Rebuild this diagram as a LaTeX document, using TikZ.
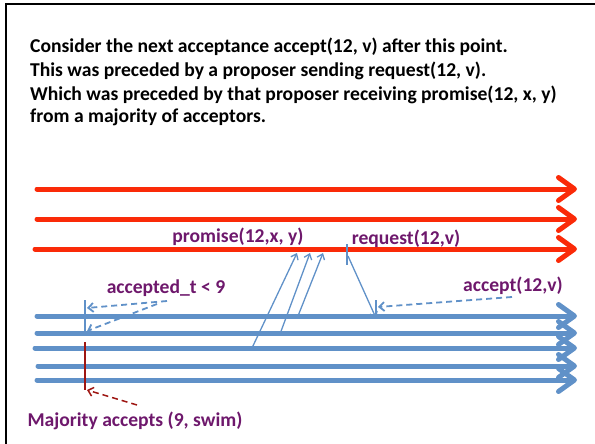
\documentclass[tikz,border=0pt]{standalone}
\usepackage{fontspec}
\setmainfont{Carlito}
\usetikzlibrary{arrows.meta}
\definecolor{propred}{RGB}{250,42,8}
\definecolor{accblue}{RGB}{96,145,200}
\definecolor{lblpurple}{RGB}{110,24,108}
\definecolor{majred}{RGB}{158,22,18}

\begin{document}
\begin{tikzpicture}[x=1pt,y=-1pt,
  txt/.style={font=\bfseries\fontsize{19.6}{22}\selectfont, inner sep=0pt},
  lbl/.style={txt, text=lblpurple},
  timeline/.style={line width=5pt, line cap=round,
    -{Straight Barb[length=16pt,width=23pt,line cap=round,line join=round]}},
  proposer/.style={timeline, draw=propred},
  acceptor/.style={timeline, draw=accblue},
  msg/.style={draw=accblue, line width=1.3pt, -{Straight Barb[length=5pt,width=8pt]}},
  tick/.style={draw=accblue, line width=1.3pt},
  note/.style={draw=accblue, line width=1.8pt, dash pattern=on 6pt off 4pt,
    -{Straight Barb[length=5pt,width=9pt]}},
  majnote/.style={draw=majred, line width=1.5pt, dash pattern=on 6pt off 4pt,
    -{Straight Barb[length=5pt,width=9pt]}},
]
\useasboundingbox (0,0) rectangle (595,444);

% frame
\draw[line width=2.8pt] (6,444) -- (6,4) -- (595,4);

% explanatory text
\node[txt, anchor=base west] (t1) at (30,53) {Consider the next acceptance accept(12, v) after this point.};
\node[txt, anchor=base west] (t2) at (30,77) {This was preceded by a proposer sending request(12, v).};
\node[txt, anchor=base west] (t3) at (30,100) {Which was preceded by that proposer receiving promise(12, x, y)};
\node[txt, anchor=base west] (t4) at (30,123) {from a majority of acceptors.};

% proposer timelines
\coordinate (p1s) at (37,189); \coordinate (p1e) at (577,189);
\coordinate (p2s) at (37,219); \coordinate (p2e) at (577,219);
\coordinate (p3s) at (35,249); \coordinate (p3e) at (577,249);
\draw[proposer] (p1s) -- (p1e);
\draw[proposer] (p2s) -- (p2e);
\draw[proposer] (p3s) -- (p3e);

% acceptor timelines
\coordinate (a1s) at (37,316); \coordinate (a1e) at (577,316);
\coordinate (a2s) at (37,333); \coordinate (a2e) at (577,333);
\coordinate (a3s) at (35,348); \coordinate (a3e) at (577,348);
\coordinate (a4s) at (38,366); \coordinate (a4e) at (577,366);
\coordinate (a5s) at (37,380); \coordinate (a5e) at (577,380);
\draw[acceptor] (a1s) -- (a1e);
\draw[acceptor] (a2s) -- (a2e);
\draw[acceptor] (a3s) -- (a3e);
\draw[acceptor] (a4s) -- (a4e);
\draw[acceptor] (a5s) -- (a5e);

% promise messages
\coordinate (pr1a) at (252,348); \coordinate (pr1b) at (297,253);
\coordinate (pr2a) at (280,334); \coordinate (pr2b) at (310,253);
\coordinate (pr3a) at (298,316); \coordinate (pr3b) at (323,253);
\draw[msg] (pr1a) -- (pr1b);
\draw[msg] (pr2a) -- (pr2b);
\draw[msg] (pr3a) -- (pr3b);

% request message
\coordinate (rqt) at (347,244); \coordinate (rqb) at (347,265);
\coordinate (rqa) at (348,256); \coordinate (rqz) at (376,318);
\draw[tick] (rqt) -- (rqb);
\draw[msg] (rqa) -- (rqz);
\coordinate (act) at (376,300);
\draw[tick] (act) -- (rqz);

% labels
\node[lbl] (promise) at (238,237) {promise(12,x, y)};
\node[lbl] (request) at (406,239) {request(12,v)};
\node[lbl] (acceptedt) at (166,288) {accepted\_t < 9};
\node[lbl] (accept) at (513,286) {accept(12,v)};
\node[lbl] (majority) at (135,421) {Majority accepts (9, swim)};

% accept note
\coordinate (acn1) at (512,297); \coordinate (acn2) at (378,307);
\draw[note] (acn1) -- (acn2);

% accepted_t notes
\coordinate (ltk1) at (85,300); \coordinate (ltk2) at (85,333);
\draw[tick] (ltk1) -- (ltk2);
\coordinate (atn1) at (167,301); \coordinate (atn2) at (87,308);
\coordinate (atn3) at (157,304); \coordinate (atn4) at (87,331);
\draw[note] (atn1) -- (atn2);
\draw[note] (atn3) -- (atn4);

% majority marker
\coordinate (mj1) at (85,342); \coordinate (mj2) at (85,390);
\draw[draw=majred, line width=1.5pt] (mj1) -- (mj2);
\coordinate (mjn) at (137,405); \coordinate (mjz) at (87,390);
\draw[majnote] (mjn) -- (mjz);
\end{tikzpicture}
\end{document}
